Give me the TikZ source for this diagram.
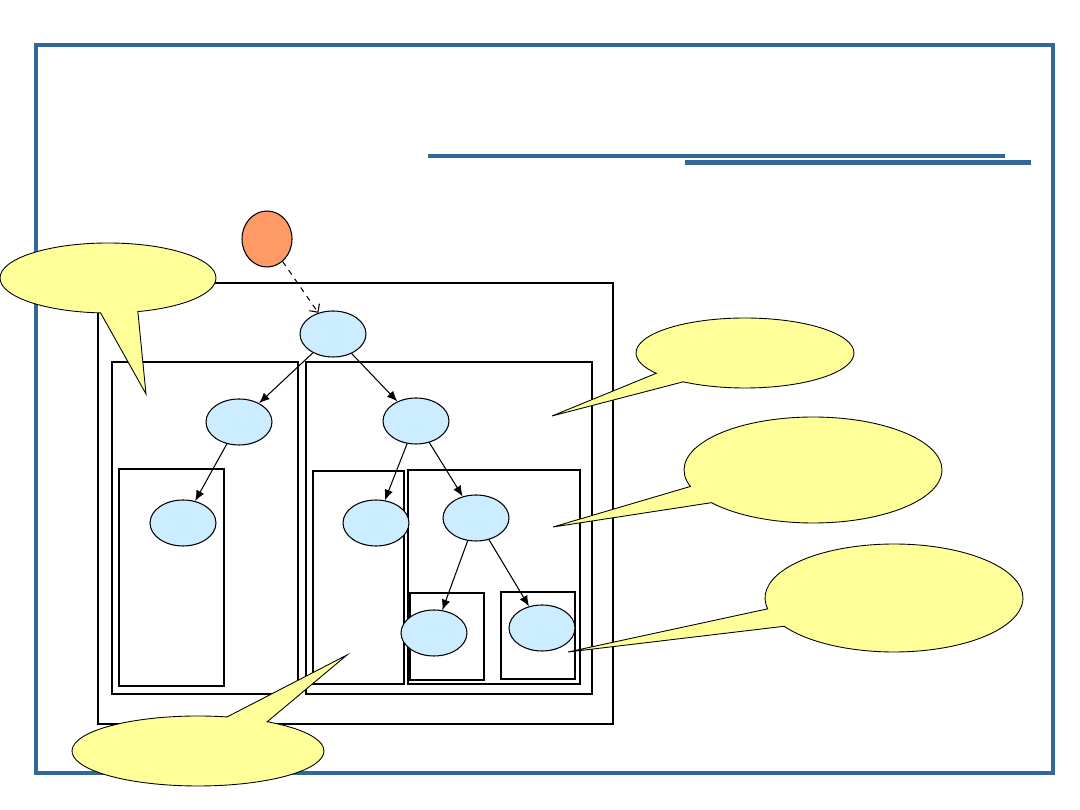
\documentclass[tikz,border=0pt]{standalone}
\usepackage{xcolor}
\usepackage{tikz}
\usetikzlibrary{shapes,shapes.callouts,arrows.meta,positioning,calc}

\definecolor{frameblue}{RGB}{51,102,153}
\definecolor{nodeblue}{RGB}{204,236,255}
\definecolor{rootorange}{RGB}{255,153,102}
\definecolor{noteyellow}{RGB}{255,255,153}

\begin{document}
\begin{tikzpicture}[
    x=0.02cm, y=-0.02cm,
    tn/.style={ellipse, draw=black, fill=nodeblue, line width=0.6pt, inner sep=0pt, minimum width=1.32cm, minimum height=0.92cm},
    en/.style={ellipse, draw=black, fill=rootorange, line width=0.6pt, inner sep=0pt, minimum width=1.0cm, minimum height=1.12cm},
    note/.style={ellipse callout, draw=black, fill=noteyellow, line width=0.5pt, inner sep=0pt, callout pointer arc=20},
    box/.style={draw=black, line width=1.1pt},
    tbox/.style={draw=black, line width=1.6pt},
    arr/.style={-{Latex[length=6pt,width=5pt]}, line width=0.6pt},
    darr/.style={-{Straight Barb[length=3.5pt,width=7pt]}, line width=0.6pt, dashed}
]
    \useasboundingbox (0,0) rectangle (1080,810);

    % frame and title bars
    \draw [frameblue, line width=2.3pt] (36,45) rectangle (1053,773);
    \fill [frameblue] (428,154) rectangle (1005,158);
    \fill [frameblue] (685,160.5) rectangle (1031,165.5);

    % nested boxes
    \draw [box] (98,283) rectangle (613,724);
    \draw [tbox] (112,362) rectangle (298,694);
    \draw [box] (306,362) rectangle (592,694);
    \draw [box] (119,469) rectangle (224,686);
    \draw [tbox] (313,471) rectangle (404,684);
    \draw [tbox] (408,470) rectangle (580,684);
    \draw [tbox] (410,593) rectangle (484,680);
    \draw [box] (501,592) rectangle (575,679);

    % tree
    \node [en] (entry) at (267,239) {};
    \node [tn] (root) at (333,334) {};
    \node [tn] (lc) at (239,422) {};
    \node [tn] (rc) at (416,421) {};
    \node [tn] (lleaf) at (183,523) {};
    \node [tn] (mleaf) at (376,523) {};
    \node [tn] (rn) at (476,518) {};
    \node [tn] (rl) at (434,633) {};
    \node [tn] (rr) at (542,628) {};

    \draw [darr] (entry) -- (root);
    \draw [arr] (root) -- (lc);
    \draw [arr] (root) -- (rc);
    \draw [arr] (lc) -- (lleaf);
    \draw [arr] (rc) -- (mleaf);
    \draw [arr] (rc) -- (rn);
    \draw [arr] (rn) -- (rl);
    \draw [arr] (rn) -- (rr);

    % callouts
    \node [note, minimum width=4.32cm, minimum height=1.4cm, callout absolute pointer={(146,394)}] (c1) at (108,278) {};
    \node [note, minimum width=4.36cm, minimum height=1.4cm, callout absolute pointer={(552,416)}] (c2) at (745,353) {};
    \node [note, minimum width=5.16cm, minimum height=2.12cm, callout absolute pointer={(553,527)}] (c3) at (813,470) {};
    \node [note, minimum width=5.16cm, minimum height=2.16cm, callout absolute pointer={(568,652)}] (c4) at (894,598) {};
    \node [note, minimum width=5.04cm, minimum height=1.4cm, callout absolute pointer={(347,655)}] (c5) at (198,751) {};
\end{tikzpicture}
\end{document}
